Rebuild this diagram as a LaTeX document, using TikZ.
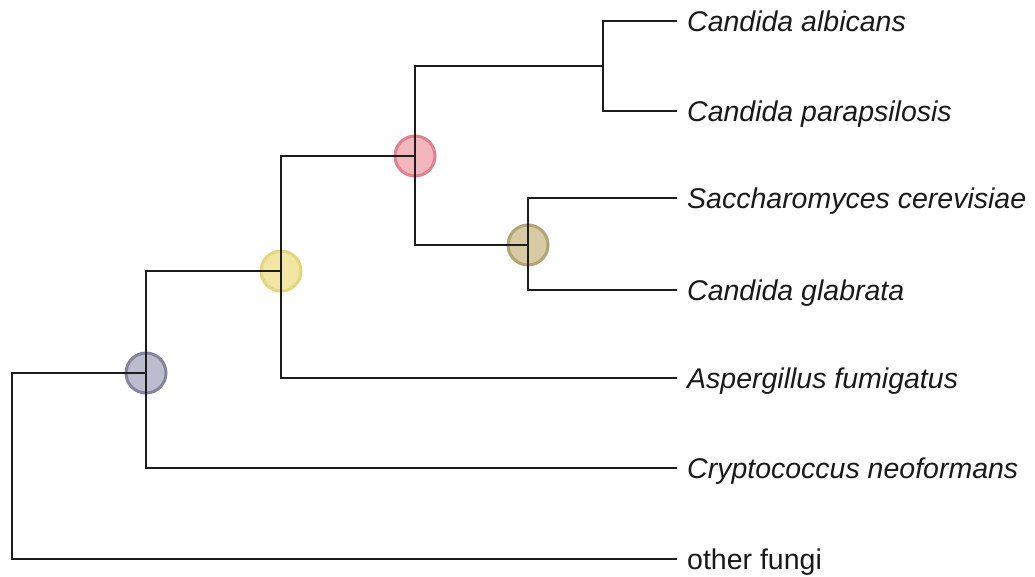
\documentclass[tikz,border=0pt]{standalone}
\usepackage{fontspec}
\setmainfont{Liberation Sans}
\begin{document}
\begin{tikzpicture}[x=1pt,y=-1pt,
  edge/.style={line width=2.4pt,draw={rgb,255:red,28;green,28;blue,28}},
  branch/.style={edge,shorten >=10pt},
  branchboth/.style={branch,shorten <=10pt},
  clade/.style={circle,inner sep=0pt,minimum size=40pt,line width=3pt},
  leaf/.style={anchor=west,inner sep=0pt,text height=20pt,text depth=0pt,text={rgb,255:red,25;green,25;blue,25},font=\fontsize{28.5}{34}\selectfont\itshape},
  plainleaf/.style={leaf,font=\fontsize{28.5}{34}\selectfont}]
\useasboundingbox (0,0) rectangle (1035,576);
\definecolor{gfill}{RGB}{188,188,206}\definecolor{gline}{RGB}{132,132,160}
\definecolor{yfill}{RGB}{242,230,165}\definecolor{yline}{RGB}{230,214,120}
\definecolor{rfill}{RGB}{242,182,188}\definecolor{rline}{RGB}{228,128,140}
\definecolor{ofill}{RGB}{216,202,162}\definecolor{oline}{RGB}{180,164,116}
% clade circles
\node[clade,fill=gfill,draw=gline] (n1) at (146,373) {};
\node[clade,fill=yfill,draw=yline] (n2) at (281,271) {};
\node[clade,fill=rfill,draw=rline] (n3) at (415,156) {};
\node[clade,fill=ofill,draw=oline] (n4) at (528,245) {};
\coordinate (j1) at (603,66);
\coordinate (r) at (12,559);
% leaves
\node[leaf] (ca) at (687,21) {Candida albicans};
\node[leaf] (cp) at (687,111) {Candida parapsilosis};
\node[leaf] (sc) at (687,198) {Saccharomyces cerevisiae};
\node[leaf] (cg) at (687,290) {Candida glabrata};
\node[leaf] (af) at (687,378) {Aspergillus fumigatus};
\node[leaf] (cn) at (687,468) {Cryptococcus neoformans};
\node[plainleaf] (of) at (687,559) {other fungi};
% branches
\draw[branch] (n1.center) -| (r) -- (of.west);
\draw[branch] (n2.center) -| (n1.center) |- (cn.west);
\draw[branch] (n3.center) -| (n2.center) |- (af.west);
\draw[edge] (j1) -| (n3.center) |- (n4.center);
\draw[branchboth] (ca.west) -| (j1) |- (cp.west);
\draw[branchboth] (sc.west) -| (n4.center) |- (cg.west);
\end{tikzpicture}
\end{document}
